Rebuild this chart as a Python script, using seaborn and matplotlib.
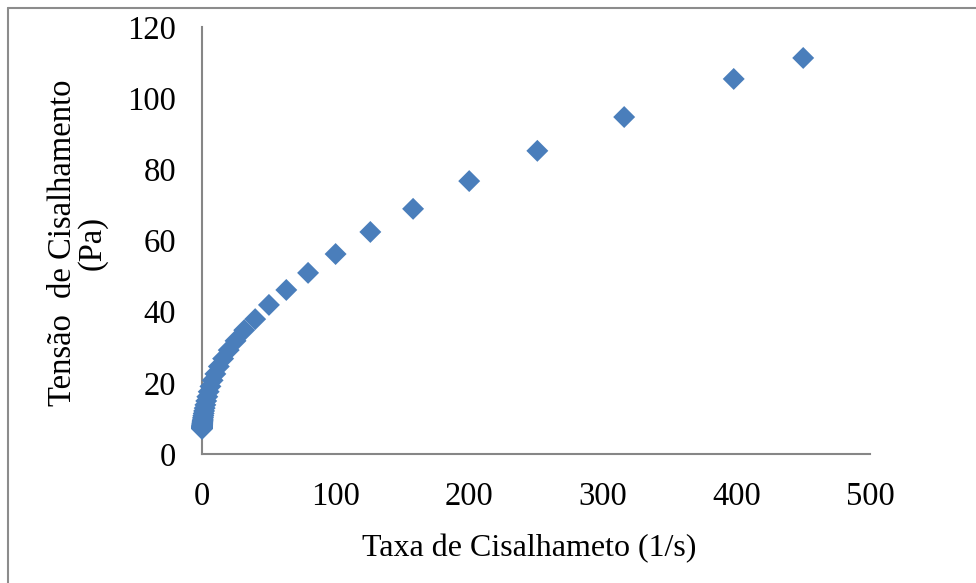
import matplotlib
matplotlib.use("Agg")
import matplotlib.pyplot as plt
from matplotlib.lines import Line2D
import seaborn as sns
import pandas as pd

# Shear rate (1/s) and shear stress (Pa) readings
taxa = [450, 398, 316, 251, 200, 158, 126, 100, 79.4, 63.1, 50.1, 39.8, 31.6,
        25.1, 20.0, 15.8, 12.6, 10.0, 7.94, 6.31, 5.01, 3.98, 3.16, 2.51, 2.00,
        1.58, 1.26, 1.00, 0.79, 0.63, 0.50, 0.40, 0.32, 0.25, 0.20, 0.16, 0.126,
        0.10, 0.079, 0.063, 0.050, 0.040, 0.032, 0.025, 0.020, 0.016, 0.0126, 0.010]
tensao = [111.3, 105.4, 94.7, 85.2, 76.7, 68.9, 62.4, 56.2, 50.9, 46.1, 41.9, 37.9, 34.8,
          31.8, 29.2, 26.8, 24.6, 22.5, 20.7, 19.0, 17.5, 16.1, 14.9, 13.8, 12.9,
          12.1, 11.4, 10.8, 10.3, 9.8, 9.4, 9.1, 8.8, 8.6, 8.4, 8.2, 8.0,
          7.9, 7.8, 7.7, 7.6, 7.5, 7.4, 7.3, 7.25, 7.2, 7.15, 7.1]

x_ticks = [0, 100, 200, 300, 400, 500]
y_ticks = [0, 20, 40, 60, 80, 100, 120]

df = pd.DataFrame({"taxa": taxa, "tensao": tensao})

sns.set_style("white")
plt.rcParams["font.family"] = ["Liberation Serif", "DejaVu Serif"]

W, H = 976, 583
fig = plt.figure(figsize=(W / 100, H / 100), dpi=100)
fig.patch.set_facecolor("white")

# axes placement in pixels
x0, x1, y0, y1 = 202, 870, 454, 27
ax = fig.add_axes([x0 / W, 1 - y0 / H, (x1 - x0) / W, (y0 - y1) / H])
ax.set_facecolor("white")

sns.scatterplot(data=df, x="taxa", y="tensao", marker="D", s=125,
                color="#4A7EBB", edgecolor="none", linewidth=0,
                ax=ax, zorder=5, clip_on=False, legend=False)

ax.set_xlim(0, 500)
ax.set_ylim(0, 120)
ax.set_xticks(x_ticks)
ax.set_yticks(y_ticks)
ax.set_xticklabels([str(v) for v in x_ticks])
ax.set_yticklabels([str(v) for v in y_ticks])

axis_gray = "#868686"
for side in ["top", "right"]:
    ax.spines[side].set_visible(False)
for side in ["left", "bottom"]:
    ax.spines[side].set_visible(True)
    ax.spines[side].set_color(axis_gray)
    ax.spines[side].set_linewidth(1.5)
    ax.spines[side].set_zorder(2)

ax.tick_params(axis="both", which="major", direction="out", length=7.5,
               width=1.5, color=axis_gray, labelsize=23.5, labelcolor="black")
ax.tick_params(axis="y", pad=11)
ax.tick_params(axis="x", pad=12)
ax.grid(False)

ax.set_xlabel("Taxa de Cisalhameto (1/s)", fontsize=23, color="black")
ax.xaxis.set_label_coords(0.49, -0.187)
ax.set_ylabel("Tensão  de Cisalhamento\n(Pa)", fontsize=23.5, color="black",
              multialignment="center", linespacing=0.95)
ax.yaxis.set_label_coords(-0.141, 0.495)

# chart area border
fig.add_artist(Line2D([8 / W, 8 / W], [0, 1 - 8 / H], color="#8c8c8c", lw=1.5,
                      transform=fig.transFigure))
fig.add_artist(Line2D([8 / W, 1], [1 - 8 / H, 1 - 8 / H], color="#8c8c8c", lw=1.5,
                      transform=fig.transFigure))

# caption of the figure above the chart
fig.text(392 / W, 1 + 10 / H, "Tensão de cisalhamento em função da taxa de cisalhamento (γ̇).",
         ha="right", va="baseline", fontsize=14, color="black")

fig.savefig("out.png", dpi=100, facecolor="white")
